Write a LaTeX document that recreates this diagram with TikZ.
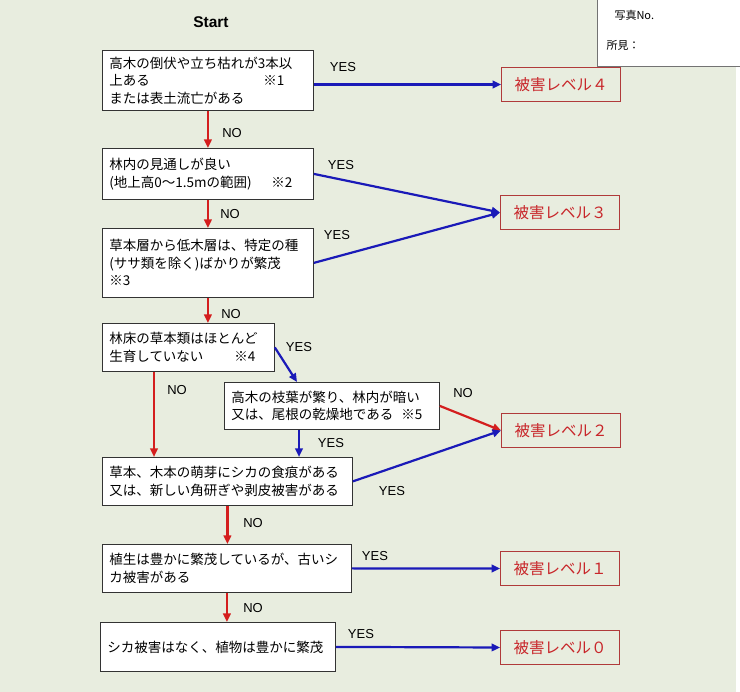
\documentclass[tikz,border=0pt]{standalone}
\usepackage{fontspec}
\setmainfont{Liberation Sans}
\newfontfamily\jp{Noto Sans CJK JP}
\usetikzlibrary{arrows.meta,calc}
\definecolor{bgc}{HTML}{E8EDDF}
\definecolor{redar}{HTML}{D41E1E}
\definecolor{bluear}{HTML}{1A1AB8}
\definecolor{lvtext}{HTML}{C8262A}
\definecolor{lvborder}{HTML}{B03A3A}
\tikzset{
  qbox/.style={draw=black!80, line width=0.8pt, fill=white, anchor=north west,
    align=left, inner xsep=7pt, font=\jp\fontsize{13.5}{17.5}\selectfont},
  lvbox/.style={draw=lvborder, line width=0.8pt, minimum width=119, minimum height=34,
    text=lvtext, font=\jp\fontsize{15.5}{18}\selectfont},
  yn/.style={font=\fontsize{13}{15}\selectfont, anchor=center},
  yesar/.style={draw=bluear, line width=2.2pt, -{Triangle[length=8.5pt,width=7.5pt]}},
  noar/.style={draw=redar, line width=2.2pt, -{Triangle[length=8.5pt,width=7.5pt]}},
}
\begin{document}
\begin{tikzpicture}[x=1pt,y=-1pt]
\useasboundingbox (0,0) rectangle (740,692);
\fill[white] (0,0) rectangle (740,692);
\fill[bgc] (0,0) rectangle (736,692);
% photo box
\draw[draw=black!55, fill=white, line width=0.8pt] (597,-2) rectangle (742,66);
\node[anchor=west, font=\jp\fontsize{11}{13}\selectfont] (photo) at (611,15) {写真No.};
\node[anchor=west, font=\jp\fontsize{11}{13}\selectfont] (obs) at (603,45) {所見：};
% start
\node[font=\bfseries\fontsize{15.5}{18}\selectfont] (start) at (211,22) {Start};
% question boxes
\node[qbox, text width=197, minimum height=60] (b1) at (102,50)
  {高木の倒伏や立ち枯れが3本以\\\makebox[154pt][l]{上ある}※1\\または表土流亡がある};
\node[qbox, text width=197, minimum height=51] (b2) at (102,148)
  {林内の見通しが良い\\\makebox[162pt][l]{(地上高0～1.5mの範囲)}※2};
\node[qbox, text width=197, minimum height=69] (b3) at (102,228)
  {草本層から低木層は、特定の種\\(ササ類を除く)ばかりが繁茂\\※3};
\node[qbox, text width=158, minimum height=48] (b4) at (102,323)
  {林床の草本類はほとんど\\\makebox[125pt][l]{生育していない}※4};
\node[qbox, text width=201, minimum height=47] (b5) at (224,382)
  {高木の枝葉が繁り、林内が暗い\\\makebox[170pt][l]{又は、尾根の乾燥地である}※5};
\node[qbox, text width=236, minimum height=48] (b6) at (102,457)
  {草本、木本の萌芽にシカの食痕がある\\又は、新しい角研ぎや剥皮被害がある};
\node[qbox, text width=235, minimum height=48] (b7) at (102,544)
  {植生は豊かに繁茂しているが、古いシ\\カ被害がある};
\node[qbox, text width=221, minimum height=49] (b8) at (100,622)
  {シカ被害はなく、植物は豊かに繁茂};
% level boxes
\node[lvbox] (L4) at (561,84.5) {被害レベル４};
\node[lvbox] (L3) at (560,212.5) {被害レベル３};
\node[lvbox] (L2) at (561,430.5) {被害レベル２};
\node[lvbox] (L1) at (560,568.5) {被害レベル１};
\node[lvbox] (L0) at (560,647.5) {被害レベル０};
% connectors
\draw[yesar] (b1.east |- L4.west) -- (L4.west);
\draw[noar] (b1.south) -- (b2.north);
\draw[yesar] (b2.east) -- (L3.west);
\draw[noar] (b2.south) -- (b3.north);
\draw[yesar] (b3.east) -- (L3.west);
\draw[noar] (b3.south) -- (b3.south |- b4.north);
\coordinate (b5in) at ($(b5.north west)+(73,0)$);
\draw[yesar] (b4.east) -- (b5in);
\coordinate (b4out) at ($(b4.south west)+(52,0)$);
\draw[noar] (b4out) -- (b4out |- b6.north);
\draw[noar] (b5.east) -- (L2.west);
\coordinate (b5out) at ($(b5.south west)+(75,0)$);
\draw[yesar] (b5out) -- (b5out |- b6.north);
\draw[yesar] (b6.east) -- (L2.west);
\draw[noar] (b6.south) -- (b6.south |- b7.north);
\draw[yesar] (b7.east) -- (L1.west);
\draw[noar] (b7.south) -- (b7.south |- b8.north);
\draw[yesar] (b8.east) -- (L0.west);
% labels
\node[yn] (y1) at (343,67) {YES};
\node[yn] (n1) at (232,133) {NO};
\node[yn] (y2) at (341,165) {YES};
\node[yn] (n2) at (230,214) {NO};
\node[yn] (y3) at (337,235) {YES};
\node[yn] (n3) at (231,314) {NO};
\node[yn] (y4) at (299,347) {YES};
\node[yn] (n4) at (177,390) {NO};
\node[yn] (n5) at (463,393) {NO};
\node[yn] (y5) at (331,443) {YES};
\node[yn] (y6) at (392,491) {YES};
\node[yn] (n6) at (253,523) {NO};
\node[yn] (y7) at (375,556) {YES};
\node[yn] (n7) at (253,608) {NO};
\node[yn] (y8) at (361,634) {YES};
\end{tikzpicture}
\end{document}
